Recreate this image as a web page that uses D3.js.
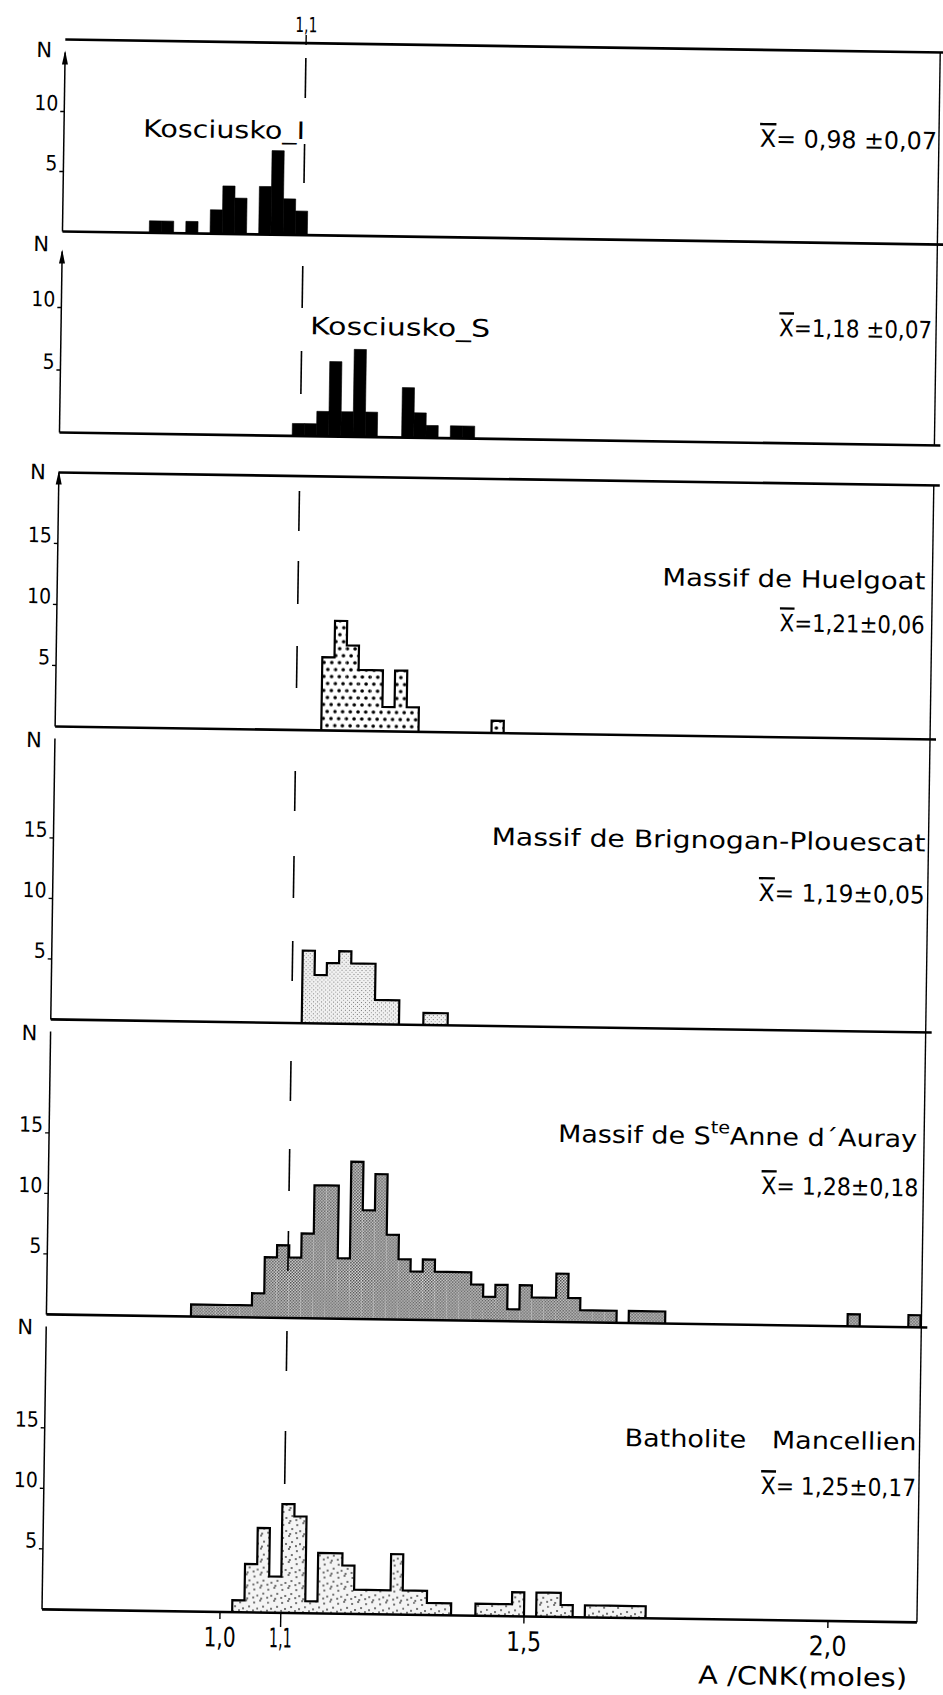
<!DOCTYPE html>
<html><head><meta charset="utf-8">
<script src="https://cdn.jsdelivr.net/npm/d3@7"></script>
<style>body{margin:0;background:#fff} text{white-space:pre}</style>
</head><body>
<svg id="c" width="943" height="1695"></svg>
<script>
// ---------- data ----------
const binWidth = 0.02;
const kosIStart = 0.85;
const kosICounts = [1,1,0,1,0,2,4,3,0,4,7,3,2];
const kosSStart = 1.09;
const kosSCounts = [1,1,2,6,2,7,2,0,0,4,2,1,0,1,1];
const huelStart = 1.145;
const huelCounts = [6,9,7,5,5,2,5,2,0,0,0,0,0,0,1];
const brigStart = 1.12;
const brigCounts = [6,4,5,6,5,5,2,2,0,0,1,1];
const anneStart = 0.945;
const anneCounts = [1,1,1,1,1,2,5,6,5,7,11,11,5,13,9,12,7,5,4,5,4,4,4,3,2,3,1,3,2,2,4,2,1,1,1,0,1,1,1,
  0,0,0,0,0,0,0,0,0,0,0,0,0,0,0,1,0,0,0,0,1];
const bathStart = 1.02;
const bathCounts = [1,4,7,3,9,8,1,5,5,4,2,2,2,5,2,2,1,1,0,0,1,1,1,2,0,2,2,1,0,1,1,1,1,1];

const panelNames = ["Kosciusko_I","Kosciusko_S","Massif de Huelgoat","Massif de Brignogan-Plouescat","Massif de S|te|Anne d\u00b4Auray","Batholite\u00a0\u00a0\u00a0Mancellien"];
const panelStats = ["= 0,98 \u00b10,07","=1,18 \u00b10,07","=1,21\u00b10,06","= 1,19\u00b10,05","= 1,28\u00b10,18","= 1,25\u00b10,17"];
const xTickValues = [1.0, 1.1, 1.5, 2.0];
const xTickLabels = ["1,0","1,1","1,5","2,0"];
const yTicksSmall = [5,10];
const yTicksLarge = [5,10,15];
const refValue = 1.1;
const xTitle = "A /CNK(moles)";

// ---------- layout ----------
const svg = d3.select("#c");
const x = d3.scaleLinear().domain([1.0, 2.0]).range([220, 828]);
const axisX = 42, rightX = 917;
const FONT = "'DejaVu Sans', 'Liberation Sans', sans-serif";

const defs = svg.append("defs");
const p1 = defs.append("pattern").attr("id","pdots").attr("patternUnits","userSpaceOnUse").attr("width",7.7).attr("height",14);
p1.append("rect").attr("width",7.7).attr("height",14).attr("fill","#fff");
p1.append("circle").attr("cx",2).attr("cy",3).attr("r",1.8).attr("fill","#000");
p1.append("circle").attr("cx",5.85).attr("cy",10).attr("r",1.8).attr("fill","#000");
const p2 = defs.append("pattern").attr("id","plight").attr("patternUnits","userSpaceOnUse").attr("width",4).attr("height",4);
p2.append("rect").attr("width",4).attr("height",4).attr("fill","#f0f0f0");
p2.append("rect").attr("x",0).attr("y",0).attr("width",1).attr("height",1).attr("fill","#777");
p2.append("rect").attr("x",2).attr("y",2).attr("width",1).attr("height",1).attr("fill","#999");
const p3 = defs.append("pattern").attr("id","pmed").attr("patternUnits","userSpaceOnUse").attr("width",3).attr("height",3);
p3.append("rect").attr("width",3).attr("height",3).attr("fill","#ddd");
p3.append("rect").attr("x",0).attr("y",0).attr("width",1.5).attr("height",1.5).attr("fill","#444");
p3.append("rect").attr("x",1.5).attr("y",1.5).attr("width",1.5).attr("height",1.5).attr("fill","#555");
const p4 = defs.append("pattern").attr("id","psparse").attr("patternUnits","userSpaceOnUse").attr("width",14).attr("height",13);
p4.append("rect").attr("width",14).attr("height",13).attr("fill","#f4f4f4");
[[2,3],[8,1],[11,7],[5,9],[1,11],[9,12]].forEach(d=>p4.append("circle").attr("cx",d[0]).attr("cy",d[1]).attr("r",0.9).attr("fill","#333"));

const root = svg.append("g").attr("transform","rotate(0.85,220,1612)");

const panels = [
  {start:kosIStart, counts:kosICounts, top:42, base:234, k:12, ticks:yTicksSmall, fill:"#000", outline:false, topLine:true, arrow:55, nY:53,
   name:{x:121, y:130, w:162, anchor:"start"}, stat:{x:915, y:131, w:177}},
  {start:kosSStart, counts:kosSCounts, top:234, base:435, k:12.5, ticks:yTicksSmall, fill:"#000", outline:false, topLine:false, arrow:254, nY:247,
   name:{x:291, y:325, w:180, anchor:"start"}, stat:{x:913, y:320, w:153}},
  {start:huelStart, counts:huelCounts, top:475, base:729, k:12.2, ticks:yTicksLarge, fill:"url(#pdots)", outline:true, topLine:true, arrow:475, nY:475,
   name:{x:910, y:571, w:263, anchor:"end"}, stat:{x:910, y:615, w:145}},
  {start:brigStart, counts:brigCounts, top:729, base:1022, k:12.1, ticks:yTicksLarge, fill:"url(#plight)", outline:true, topLine:false, arrow:null, nY:743,
   name:{x:914, y:833, w:434, anchor:"end"}, stat:{x:914, y:885, w:166}},
  {start:anneStart, counts:anneCounts, top:1022, base:1317, k:12.1, ticks:yTicksLarge, fill:"url(#pmed)", outline:true, topLine:false, arrow:null, nY:1036,
   name:{x:910, y:1129, w:359, anchor:"end"}, stat:{x:912, y:1178, w:157}},
  {start:bathStart, counts:bathCounts, top:1317, base:1612, k:12.1, ticks:yTicksLarge, fill:"url(#psparse)", outline:true, topLine:false, arrow:null, nY:1330,
   name:{x:914, y:1432, w:292, anchor:"end"}, stat:{x:914, y:1478, w:155}}
];

panels.forEach((p, pi) => {
  const g = root.append("g");
  const y = d3.scaleLinear().domain([0, 1]).range([p.base, p.base - p.k]);
  const bins = p.counts.map((c, i) => ({x0: p.start + i*binWidth, x1: p.start + (i+1)*binWidth, n: c}));
  g.selectAll("rect.bar").data(bins.filter(b => b.n > 0)).join("rect")
    .attr("x", d => x(d.x0)).attr("width", d => x(d.x1) - x(d.x0))
    .attr("y", d => y(d.n)).attr("height", d => p.base - y(d.n))
    .attr("fill", p.fill).attr("stroke", p.outline ? "none" : "#000").attr("stroke-width", p.outline ? 0 : 0.6);
  if (p.outline) {
    let d = "";
    let inRun = false;
    bins.forEach((b, i) => {
      if (b.n > 0) {
        if (!inRun) { d += `M${x(b.x0)},${p.base}L${x(b.x0)},${y(b.n)}`; inRun = true; }
        else { d += `L${x(b.x0)},${y(b.n)}`; }
        d += `L${x(b.x1)},${y(b.n)}`;
        const next = bins[i+1];
        if (!next || next.n === 0) { d += `L${x(b.x1)},${p.base}`; inRun = false; }
      }
    });
    g.append("path").attr("d", d).attr("fill","none").attr("stroke","#000").attr("stroke-width",2.2).attr("stroke-linejoin","miter");
  }
  g.append("line").attr("x1", axisX).attr("x2", pi === 5 ? rightX : rightX + 6).attr("y1", p.base).attr("y2", p.base)
    .attr("stroke","#000").attr("stroke-width",2.6);
  if (p.topLine) g.append("line").attr("x1", axisX).attr("x2", rightX + 6).attr("y1", p.top).attr("y2", p.top).attr("stroke","#000").attr("stroke-width",2.6);
  g.append("line").attr("x1", rightX).attr("x2", rightX).attr("y1", p.top).attr("y2", p.base).attr("stroke","#000").attr("stroke-width",1.4);
  const axTop = p.arrow !== null ? p.arrow : p.top + 12;
  g.append("line").attr("x1", axisX).attr("x2", axisX).attr("y1", p.base).attr("y2", axTop).attr("stroke","#000").attr("stroke-width",1.5);
  if (p.arrow !== null) {
    g.append("path").attr("d", `M${axisX-3},${axTop+12}L${axisX},${axTop-2}L${axisX+3},${axTop+12}Z`).attr("fill","#000");
  }
  p.ticks.forEach(t => {
    const yy = y(t);
    g.append("line").attr("x1", axisX - 4).attr("x2", axisX).attr("y1", yy).attr("y2", yy).attr("stroke","#000").attr("stroke-width",1.4);
    g.append("text").attr("x", axisX - 6).attr("y", yy - 8).attr("text-anchor","end").attr("dominant-baseline","central")
      .attr("font-family", FONT).attr("font-size", 21).attr("textLength", String(t).length * 12).attr("lengthAdjust","spacingAndGlyphs").text(t);
  });
  g.append("text").attr("x", 21).attr("y", p.nY).attr("text-anchor","middle").attr("dominant-baseline","central")
    .attr("font-family", FONT).attr("font-size", 21).text("N");
  const nm = panelNames[pi];
  const nt = g.append("text").attr("x", p.name.x).attr("y", p.name.y).attr("text-anchor", p.name.anchor).attr("dominant-baseline","central")
    .attr("font-family", FONT).attr("font-size", 24).attr("textLength", p.name.w).attr("lengthAdjust","spacingAndGlyphs");
  if (nm.includes("|")) {
    const parts = nm.split("|");
    nt.append("tspan").text(parts[0]);
    nt.append("tspan").attr("dy", -9).attr("font-size", 17).text(parts[1]);
    nt.append("tspan").attr("dy", 9).text(parts[2]);
  } else nt.text(nm);
  const st = g.append("text").attr("x", p.stat.x).attr("y", p.stat.y).attr("text-anchor","end").attr("dominant-baseline","central")
    .attr("font-family", FONT).attr("font-size", 24).attr("textLength", p.stat.w).attr("lengthAdjust","spacingAndGlyphs");
  st.append("tspan").attr("text-decoration","overline").text("X");
  st.append("tspan").text(panelStats[pi]);
});

const dashSegs = [[57,97],[143,182],[265,307],[350,393],[490,530],[560,603],[645,687],[770,810],[855,897],[940,980],[1060,1100],[1148,1190],[1230,1270],[1330,1370],[1430,1483]];
root.selectAll("line.ref").data(dashSegs).join("line")
  .attr("x1", x(refValue) + 2).attr("x2", x(refValue) + 2)
  .attr("y1", d => d[0]).attr("y2", d => d[1]).attr("stroke","#000").attr("stroke-width",1.6);
root.append("line").attr("x1", x(refValue)+2).attr("x2", x(refValue)+2).attr("y1", 34).attr("y2", 44).attr("stroke","#000").attr("stroke-width",1.4);
root.append("text").attr("x", x(refValue)+2).attr("y", 24).attr("text-anchor","middle").attr("dominant-baseline","central")
  .attr("font-family", FONT).attr("font-size", 21).attr("textLength", 22).attr("lengthAdjust","spacingAndGlyphs").text(xTickLabels[1]);

const base = panels[5].base;
xTickValues.forEach((v, i) => {
  root.append("line").attr("x1", x(v)).attr("x2", x(v)).attr("y1", base).attr("y2", base + (i === 1 ? 14 : 7)).attr("stroke","#000").attr("stroke-width",1.4);
  const w = [32, 23, 35, 38][i];
  root.append("text").attr("x", x(v)).attr("y", 1637).attr("text-anchor","middle").attr("dominant-baseline","central")
    .attr("font-family", FONT).attr("font-size", 27).attr("textLength", w).attr("lengthAdjust","spacingAndGlyphs").text(xTickLabels[i]);
});
root.append("text").attr("x", 908).attr("y", 1668).attr("text-anchor","end").attr("dominant-baseline","central")
  .attr("font-family", FONT).attr("font-size", 25).attr("textLength", 209).attr("lengthAdjust","spacingAndGlyphs").text(xTitle);
</script>
</body></html>
